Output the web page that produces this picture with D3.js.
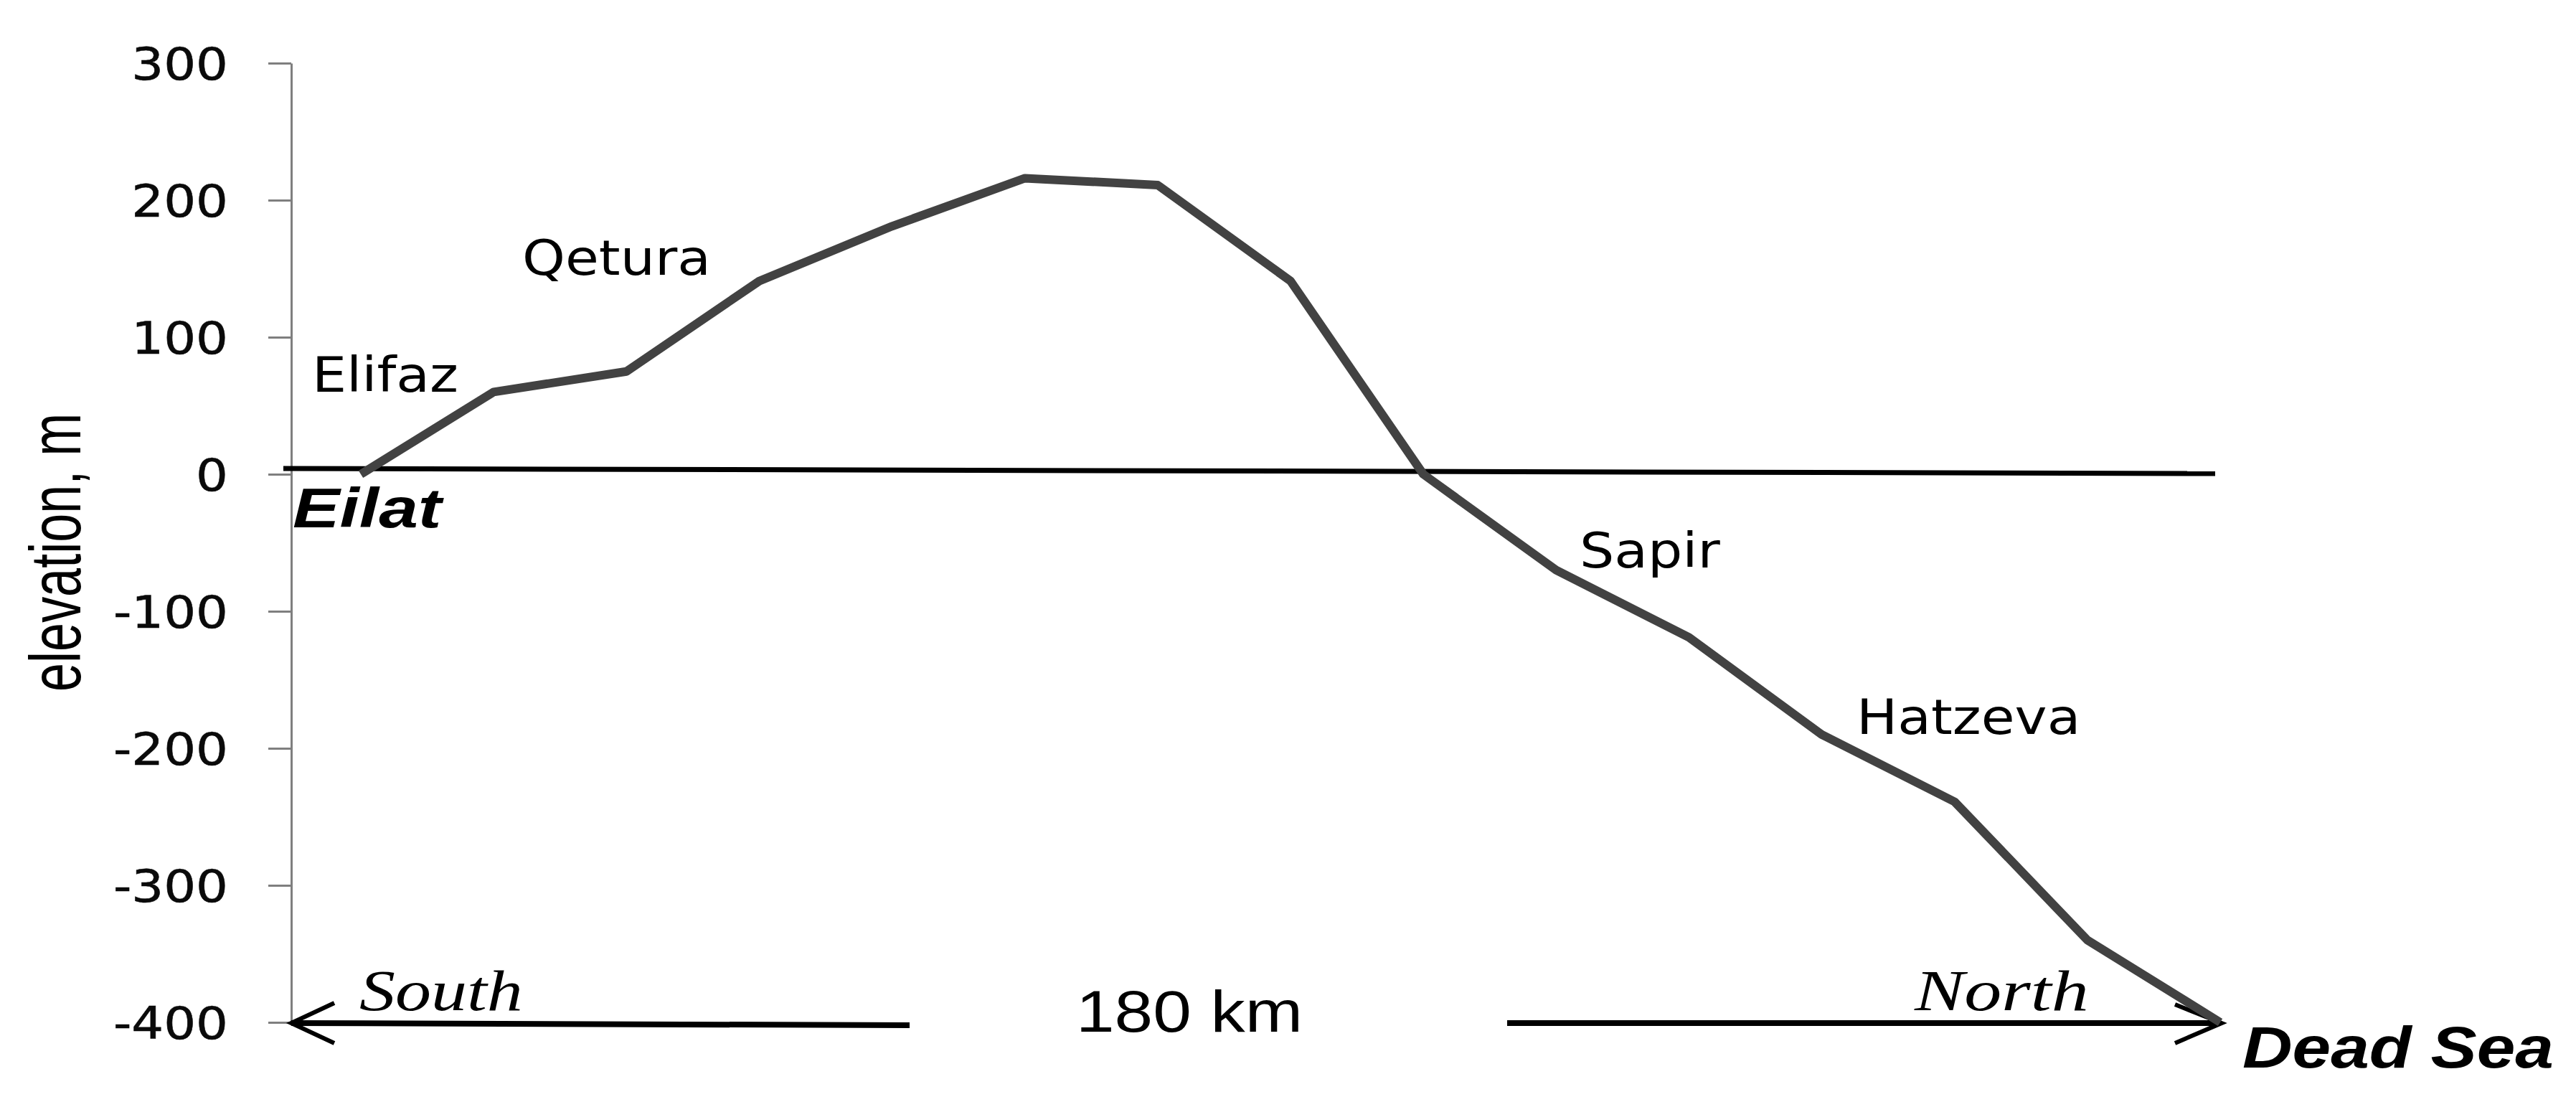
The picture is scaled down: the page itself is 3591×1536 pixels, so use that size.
<!DOCTYPE html>
<html>
<head>
<meta charset="utf-8">
<script src="https://cdn.jsdelivr.net/npm/d3@7"></script>
<style>
  html, body { margin: 0; padding: 0; background: #fff; }
  svg { display: block; }
</style>
</head>
<body>
<svg id="chart" width="3591" height="1536"></svg>
<script>
// elevation profile along the Arava road, south to north, one point per station
var elevation = [0, 60, 75, 141, 181, 216, 211, 141, 0, -70, -119, -190, -239, -340, -400];
var yTicks = [300, 200, 100, 0, -100, -200, -300, -400];
var placeNames = ["Elifaz", "Qetura", "Sapir", "Hatzeva"];
var endNames = ["Eilat", "Dead Sea"];
var directions = ["South", "North"];
var distanceLabel = "180 km";
var axisTitle = "elevation, m";

var svg = d3.select("#chart");

var axisX = 406;
var x = d3.scalePoint()
    .domain(elevation.map(function (d, i) { return i; }))
    .range([503, 3095]);
var y = d3.scaleLinear()
    .domain([-400, 300])
    .range([1425, 88]);

var SANS = "'DejaVu Sans', Verdana, sans-serif";
var ARIAL = "'Liberation Sans', Arial, sans-serif";
var SERIF = "'Liberation Serif', 'Times New Roman', serif";

// text stretched horizontally, the original picture is wider than it was drawn
function stretchedText(str, px, py, sx, font, size, opts) {
    opts = opts || {};
    return svg.append("text")
        .attr("transform", "translate(" + px + "," + py + ") scale(" + sx + ",1)")
        .attr("text-anchor", opts.anchor || "start")
        .attr("font-family", font)
        .attr("font-size", size)
        .attr("font-weight", opts.weight || "normal")
        .attr("font-style", opts.style || "normal")
        .attr("fill", "#000")
        .text(str);
}

// y axis
var TICK_SX = 1.12;
var yAxis = d3.axisLeft(y)
    .tickValues(yTicks)
    .tickSize(32)
    .tickSizeOuter(0)
    .tickFormat(function (d) { return String(d); });

var gAxis = svg.append("g")
    .attr("transform", "translate(" + axisX + ",0)")
    .call(yAxis);
gAxis.select(".domain").attr("stroke", "#7f7f7f").attr("stroke-width", 3);
gAxis.selectAll(".tick line").attr("stroke", "#7f7f7f").attr("stroke-width", 3);
gAxis.selectAll(".tick text")
    .attr("font-family", SANS)
    .attr("font-size", 63)
    .attr("fill", "#0a0a0a")
    .attr("stroke", "#0a0a0a")
    .attr("stroke-width", 0.6)
    .attr("x", -88 / TICK_SX)
    .attr("dy", "0.36em")
    .attr("transform", "scale(" + TICK_SX + ",1)");

// axis title
svg.append("text")
    .attr("transform", "translate(112," + y(-57) + ") rotate(-90) scale(1,1.4)")
    .attr("text-anchor", "middle")
    .attr("font-family", ARIAL)
    .attr("font-size", 72)
    .attr("fill", "#000")
    .text(axisTitle);

// sea level line
svg.append("line")
    .attr("x1", axisX - 11).attr("y1", y(0) - 8)
    .attr("x2", x(14) - 7).attr("y2", y(0) - 1)
    .attr("stroke", "#000")
    .attr("stroke-width", 7);

// south / north arrows along the bottom
var arrowY = y(-400) + 1;
var arrows = svg.append("g").attr("stroke", "#000").attr("fill", "none");
arrows.append("line")
    .attr("x1", axisX).attr("y1", arrowY)
    .attr("x2", 1268).attr("y2", arrowY + 3)
    .attr("stroke-width", 8);
arrows.append("polyline")
    .attr("points", [[axisX + 60, arrowY - 28], [axisX, arrowY], [axisX + 60, arrowY + 28]].join(" "))
    .attr("stroke-width", 6);
arrows.append("line")
    .attr("x1", 2101).attr("y1", arrowY)
    .attr("x2", x(14)).attr("y2", arrowY)
    .attr("stroke-width", 8);
arrows.append("polyline")
    .attr("points", [[x(14) - 63, arrowY - 26], [x(14) + 2, arrowY], [x(14) - 63, arrowY + 28]].join(" "))
    .attr("stroke-width", 6);

// elevation profile
var line = d3.line()
    .x(function (d, i) { return x(i); })
    .y(function (d) { return y(d); });

svg.append("path")
    .datum(elevation)
    .attr("d", line)
    .attr("fill", "none")
    .attr("stroke", "#424242")
    .attr("stroke-width", 12)
    .attr("stroke-linejoin", "round");

// station names
var NAME_SX = 1.12;
stretchedText(placeNames[0], 435, 546, NAME_SX, SANS, 68);
stretchedText(placeNames[1], 728, 383, NAME_SX, SANS, 68);
stretchedText(placeNames[2], 2202, 791, NAME_SX, SANS, 68);
stretchedText(placeNames[3], 2588, 1023, NAME_SX, SANS, 68);

stretchedText(endNames[0], 408, 735, 1.26, ARIAL, 78, { weight: "bold", style: "italic" });
stretchedText(endNames[1], 3126, 1488, 1.19, ARIAL, 81, { weight: "bold", style: "italic" });

stretchedText(directions[0], 501, 1408, 1.25, SERIF, 80, { style: "italic" });
stretchedText(directions[1], 2669, 1408, 1.3, SERIF, 80, { style: "italic" });

stretchedText(distanceLabel, 1658, 1438, 1.19, ARIAL, 81, { anchor: "middle" });
</script>
</body>
</html>
